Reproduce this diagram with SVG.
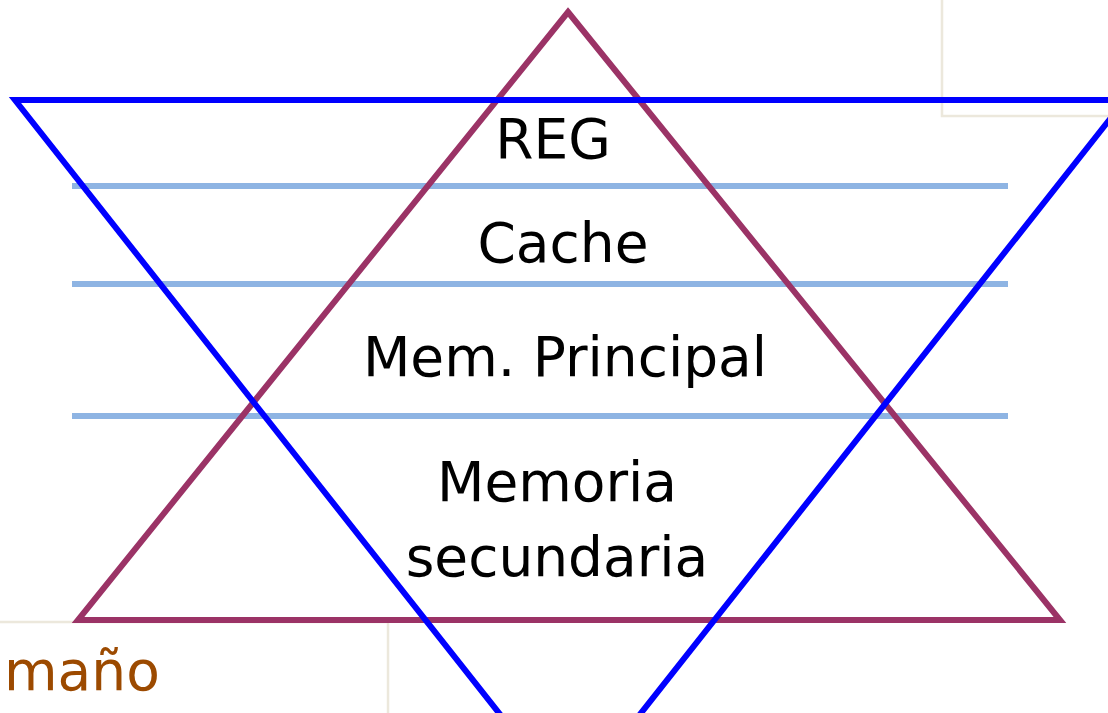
<svg xmlns="http://www.w3.org/2000/svg" width="1108" height="713" viewBox="0 0 1108 713">
<style>
.lbl{font-family:"DejaVu Sans","Liberation Sans",sans-serif;font-size:55px;fill:#000;text-anchor:middle}
.sep{stroke:#8EB4E3;stroke-width:6}
.box{fill:none;stroke:#ECE8DC;stroke-width:2.5}
</style>
<rect width="1108" height="713" fill="#fff"/>
<g id="frames">
<rect class="box" x="942" y="-10" width="200" height="126"/>
<rect class="box" x="-10" y="622" width="398" height="120"/>
</g>
<g id="separators">
<line class="sep" x1="72" y1="186" x2="1008" y2="186"/>
<line class="sep" x1="72" y1="284" x2="1008" y2="284"/>
<line class="sep" x1="72" y1="416" x2="1008" y2="416"/>
</g>
<g id="triangle-up">
<polygon points="568,12 1060,620 78,620" fill="none" stroke="#9B3366" stroke-width="6" stroke-linejoin="miter"/>
</g>
<g id="triangle-down">
<polygon points="15,100 1125,100 570,803" fill="none" stroke="#0000FF" stroke-width="6"/>
</g>
<g id="labels">
<text class="lbl" x="553" y="158">REG</text>
<text class="lbl" x="563" y="262">Cache</text>
<text class="lbl" x="565" y="376">Mem. Principal</text>
<text class="lbl" x="557" y="501">Memoria</text>
<text class="lbl" x="557" y="576">secundaria</text>
<text x="4" y="690" font-family="DejaVu Sans, Liberation Sans, sans-serif" font-size="55" fill="#9C4A00">maño</text>
</g>
</svg>
